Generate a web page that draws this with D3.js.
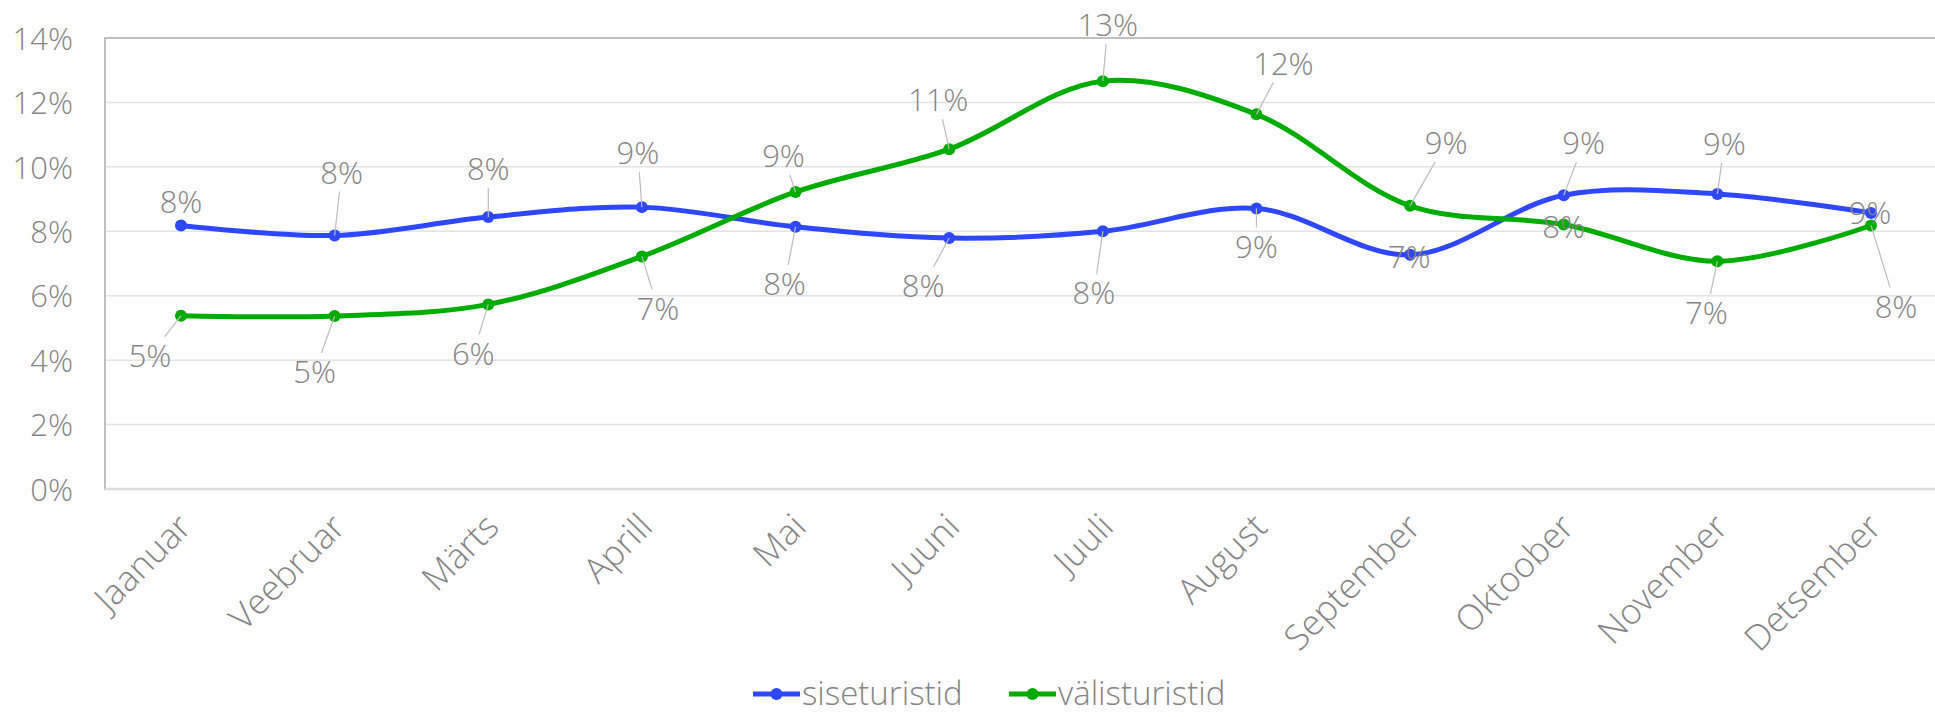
<!DOCTYPE html>
<html>
<head>
<meta charset="utf-8">
<script src="https://cdn.jsdelivr.net/npm/d3@7"></script>
<style>
	body { margin: 0; background: #fff; }
	svg { display: block; }
	text { font-family: "Open Sans", "Lato", sans-serif; font-weight: 300; fill: #858585; }
</style>
</head>
<body>
<svg id="chart" width="1935" height="717"></svg>
<script>

// Data

var months = ["Jaanuar", "Veebruar", "Märts", "Aprill", "Mai", "Juuni", "Juuli", "August", "September", "Oktoober", "November", "Detsember"];

var siseturistid = [8.18, 7.87, 8.44, 8.75, 8.14, 7.79, 8.00, 8.71, 7.27, 9.12, 9.16, 8.57];
var valisturistid = [5.38, 5.37, 5.73, 7.22, 9.22, 10.55, 12.66, 11.63, 8.79, 8.21, 7.07, 8.18];

var seriesNames = ["siseturistid", "välisturistid"];
var yTicks = [0, 2, 4, 6, 8, 10, 12, 14];

// label placement, pixels from the point
var siseLabelOffsets = [[0, -24], [7, -63], [0, -48], [-4, -54], [-11, 57], [-26, 48], [-9, 62], [0, 38], [-1, 2], [20, -52], [7, -50], [-1, 0]];
var valiLabelOffsets = [[-31, 40], [-20, 56], [-15, 49], [16, 52], [-12, -36], [-11, -49], [5, -56], [27, -51], [36, -63], [0, 2], [-11, 52], [25, 81]];

var colors = ["#2f47ff", "#00ab00"];

// Layout

var svg = d3.select("#chart");

var plot = { left: 105, top: 38, right: 1960, bottom: 489 };

var x = d3.scalePoint()
	.domain(months)
	.range([181, 1871]);

var y = d3.scaleLinear()
	.domain([0, 14])
	.range([plot.bottom, plot.top]);

// Gridlines
svg.append("g")
	.selectAll("line")
	.data(yTicks.filter(function (d) { return d > 0 && d < 14; }))
	.enter().append("line")
	.attr("x1", plot.left)
	.attr("x2", plot.right)
	.attr("y1", function (d) { return y(d); })
	.attr("y2", function (d) { return y(d); })
	.style("stroke", "#e3e3e3")
	.style("stroke-width", 1.5);

// Plot border
svg.append("rect")
	.attr("x", plot.left)
	.attr("y", plot.top)
	.attr("width", plot.right - plot.left)
	.attr("height", plot.bottom - plot.top)
	.style("fill", "none")
	.style("stroke", "#c0c0c0")
	.style("stroke-width", 2);

svg.append("line")
	.attr("x1", plot.left)
	.attr("x2", plot.right)
	.attr("y1", y(0))
	.attr("y2", y(0))
	.style("stroke", "#dcdcdc")
	.style("stroke-width", 2.5);

// Y axis
var yAxis = svg.append("g")
	.attr("transform", "translate(" + (plot.left - 32) + ",0)")
	.call(d3.axisLeft(y).tickValues(yTicks).tickSize(0).tickFormat(function (d) { return d + "%"; }));

yAxis.select(".domain").remove();
yAxis.selectAll("text")
	.attr("x", 0)
	.attr("dy", "0.36em")
	.style("font-size", "31px")
	.style("font-family", null)
	.attr("fill", null);

// X axis labels
var xAxis = svg.append("g")
	.attr("transform", "translate(0," + plot.bottom + ")")
	.call(d3.axisBottom(x).tickSize(0));

xAxis.select(".domain").remove();
xAxis.selectAll("text")
	.attr("fill", null)
	.style("font-family", null)
	.style("font-size", "35px")
	.attr("y", 0)
	.attr("dy", 0)
	.attr("text-anchor", "end")
	.attr("transform", "translate(12,40) rotate(-45)");

// Lines

var line = d3.line()
	.x(function (d, i) { return x(months[i]); })
	.y(function (d) { return y(d); })
	.curve(d3.curveCatmullRom.alpha(0.5));

var allSeries = [siseturistid, valisturistid];
var allOffsets = [siseLabelOffsets, valiLabelOffsets];

allSeries.forEach(function (values, s) {

	svg.append("path")
		.datum(values)
		.attr("d", line)
		.style("fill", "none")
		.style("stroke", colors[s])
		.style("stroke-width", 5);

	svg.append("g")
		.selectAll("circle")
		.data(values)
		.enter().append("circle")
		.attr("cx", function (d, i) { return x(months[i]); })
		.attr("cy", function (d) { return y(d); })
		.attr("r", 6)
		.style("fill", colors[s]);
});

// Data labels with leader lines

allSeries.forEach(function (values, s) {

	var g = svg.append("g");

	values.forEach(function (v, i) {

		var px = x(months[i]);
		var py = y(v);
		var lx = px + allOffsets[s][i][0];
		var ly = py + allOffsets[s][i][1];

		var t = g.append("text")
			.attr("x", lx)
			.attr("y", ly)
			.attr("dy", "0.36em")
			.attr("text-anchor", "middle")
			.style("font-size", "31px")
			.text(Math.round(v) + "%");

		var box = t.node().getBBox();
		var hw = box.width / 2 + 2;
		var hh = box.height / 2 - 2;

		var dx = px - lx;
		var dy = py - ly;

		if (Math.abs(dx) <= hw && Math.abs(dy) <= hh) {
			return;
		}

		var k = Math.min(dx === 0 ? Infinity : hw / Math.abs(dx), dy === 0 ? Infinity : hh / Math.abs(dy));
		var ex = lx + dx * k;
		var ey = ly + dy * k;

		if (Math.hypot(px - ex, py - ey) < 12) {
			return;
		}

		g.insert("line", "text")
			.attr("x1", px)
			.attr("y1", py)
			.attr("x2", ex)
			.attr("y2", ey)
			.style("stroke", "#bdbdbd")
			.style("stroke-width", 1.2);
	});
});

// Legend

var legendX = [753, 1009];

var legend = svg.append("g")
	.selectAll("g")
	.data(seriesNames)
	.enter().append("g")
	.attr("transform", function (d, i) { return "translate(" + legendX[i] + ",694)"; });

legend.append("line")
	.attr("x1", 0)
	.attr("x2", 47)
	.style("stroke", function (d, i) { return colors[i]; })
	.style("stroke-width", 5);

legend.append("circle")
	.attr("cx", 23.5)
	.attr("r", 6)
	.style("fill", function (d, i) { return colors[i]; });

legend.append("text")
	.attr("x", 49)
	.attr("dy", "0.34em")
	.style("font-size", "33px")
	.text(function (d) { return d; });

</script>
</body>
</html>
